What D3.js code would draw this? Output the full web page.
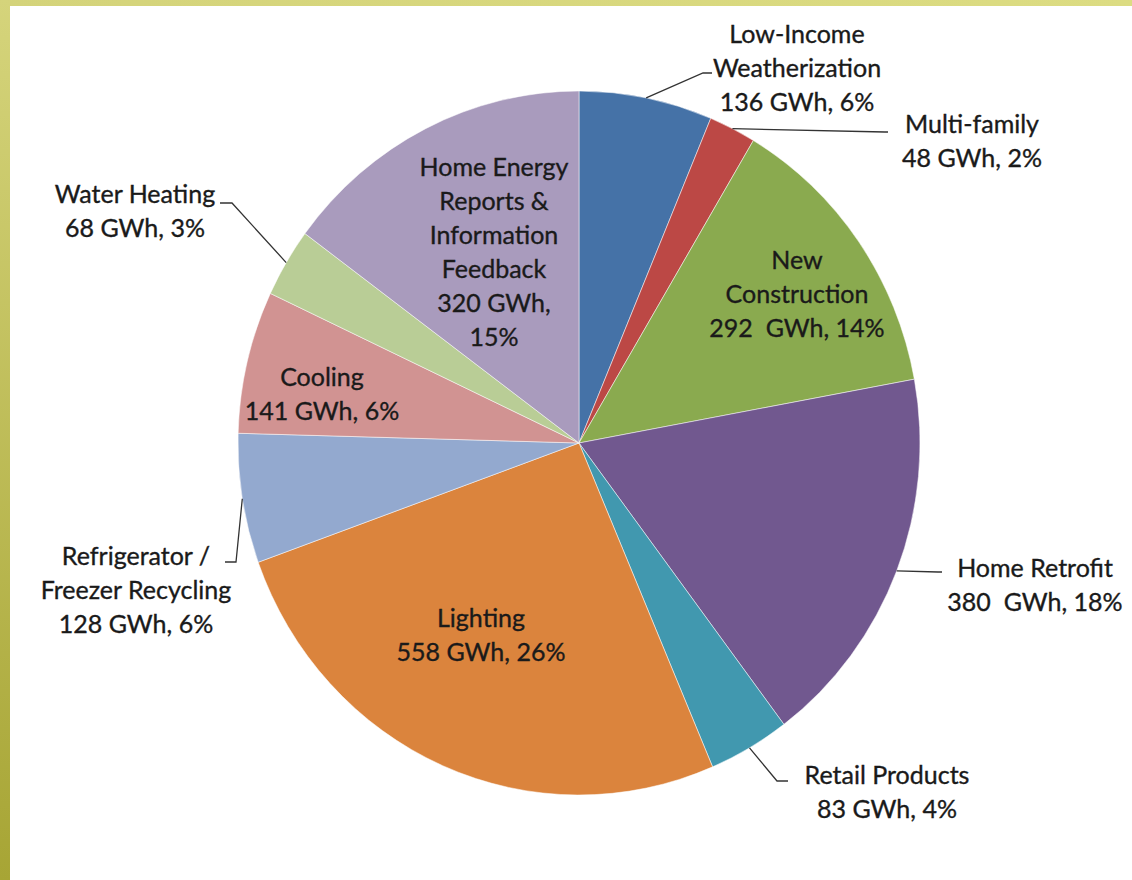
<!DOCTYPE html>
<html>
<head>
<meta charset="utf-8">
<script src="https://cdn.jsdelivr.net/npm/d3@7"></script>
<style>
  html, body { margin: 0; padding: 0; background: #fff; }
  text { font-family: Lato, "Open Sans", sans-serif; fill: #1a1a1a; stroke: #1a1a1a; stroke-width: 0.35px; white-space: pre; }
</style>
</head>
<body>
<div id="chart"></div>
<script>
// data
var categories = ["Low-Income Weatherization", "Multi-family", "New Construction", "Home Retrofit",
  "Retail Products", "Lighting", "Refrigerator / Freezer Recycling", "Cooling", "Water Heating",
  "Home Energy Reports & Information Feedback"];
var gwh = [136, 48, 292, 380, 83, 558, 128, 141, 68, 320];
var percents = [6, 2, 14, 18, 4, 26, 6, 6, 3, 15];
var labelLines = [
  ["Low-Income", "Weatherization", "136 GWh, 6%"],
  ["Multi-family", "48 GWh, 2%"],
  ["New", "Construction", "292  GWh, 14%"],
  ["Home Retrofit", "380  GWh, 18%"],
  ["Retail Products", "83 GWh, 4%"],
  ["Lighting", "558 GWh, 26%"],
  ["Refrigerator /", "Freezer Recycling", "128 GWh, 6%"],
  ["Cooling", "141 GWh, 6%"],
  ["Water Heating", "68 GWh, 3%"],
  ["Home Energy", "Reports &", "Information", "Feedback", "320 GWh,", "15%"]
];
var colors = ["#4572a7", "#bc4845", "#8aaa4f", "#71588f", "#4198af",
  "#db843d", "#93a9cf", "#d19392", "#b9cd96", "#a99bbd"];

var w = 1132, h = 880;
var cx = 579, cy = 443, rx = 341, ry = 352;
var lineH = 34;

// label placement: centre x, first baseline, and optional leader (elbow, end)
var layout = [
  {x: 797, y: 43, leader: [[703, 73], [712, 73]]},
  {x: 972, y: 133, leader: [[885, 132], [888, 132]]},
  {x: 797, y: 269},
  {x: 1035, y: 577, leader: [[938, 572], [942, 572]]},
  {x: 887, y: 784, leader: [[777, 781], [788, 781]]},
  {x: 481, y: 627},
  {x: 136, y: 565, leader: [[236, 562], [225, 562]]},
  {x: 322, y: 386},
  {x: 135, y: 203, leader: [[232, 203], [220, 203]]},
  {x: 494, y: 176}
];

var svg = d3.select('#chart').
append('svg').
attr('width', w).
attr('height', h);

// frame bands
var defs = svg.append('defs');
var gl = defs.append('linearGradient').attr('id', 'leftBand').
attr('x1', 0).attr('y1', 0).attr('x2', 0).attr('y2', 1);
gl.append('stop').attr('offset', '0%').attr('stop-color', '#d5d47b');
gl.append('stop').attr('offset', '100%').attr('stop-color', '#a7a535');
var gt = defs.append('linearGradient').attr('id', 'topBand').
attr('x1', 0).attr('y1', 0).attr('x2', 1).attr('y2', 0);
gt.append('stop').attr('offset', '0%').attr('stop-color', '#d4d37a');
gt.append('stop').attr('offset', '100%').attr('stop-color', '#dcdc82');

svg.append('rect').attr('x', 0).attr('y', 0).attr('width', w).attr('height', 6).attr('fill', 'url(#topBand)');
svg.append('rect').attr('x', 0).attr('y', 0).attr('width', 10).attr('height', h).attr('fill', 'url(#leftBand)');

var pie = d3.pie().sort(null).value(d => d);
var arcs = pie(gwh);
var arc = d3.arc().innerRadius(0).outerRadius(rx);

var pieG = svg.append('g').
attr('transform', 'translate(' + cx + ',' + cy + ') scale(1,' + ry / rx + ')');

pieG.selectAll('path').
data(arcs).
enter().
append('path').
attr('d', arc).
attr('fill', (d, i) => colors[i]).
attr('stroke', '#ffffff').
attr('stroke-opacity', 0.5).
attr('stroke-width', 1).
attr('vector-effect', 'non-scaling-stroke');

// leader lines start on the rim at each slice's middle angle
function rimPoint(d) {
  var a = (d.startAngle + d.endAngle) / 2;
  return [cx + rx * Math.sin(a), cy - ry * Math.cos(a)];
}

arcs.forEach(function (d, i) {
  var l = layout[i];
  if (l.leader) {
    var pts = [rimPoint(d)].concat(l.leader);
    svg.append('path').
    attr('d', d3.line()(pts)).
    attr('fill', 'none').
    attr('stroke', '#333').
    attr('stroke-width', 1.3);
  }
  var t = svg.append('text').
  attr('text-anchor', 'middle').
  style('font-size', '25px');
  t.selectAll('tspan').
  data(labelLines[i]).
  enter().
  append('tspan').
  attr('x', l.x).
  attr('y', (s, j) => l.y + j * lineH).
  text(s => s);
});
</script>
</body>
</html>
